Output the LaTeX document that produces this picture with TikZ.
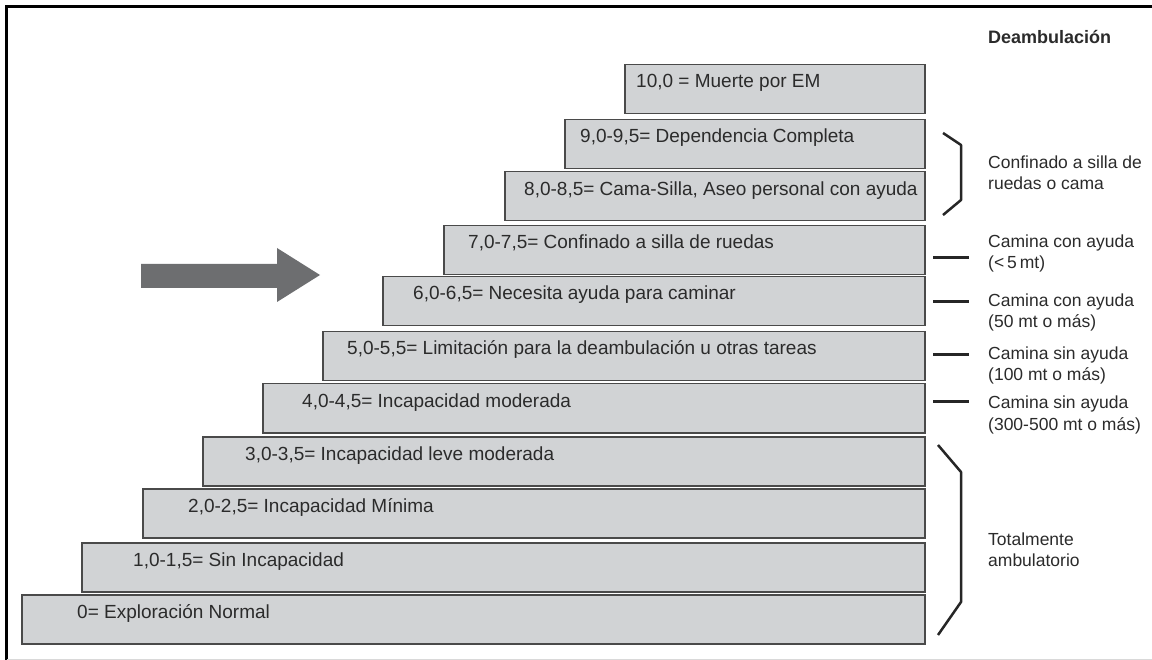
\documentclass[tikz,border=0pt]{standalone}
\usepackage{fontspec}
\setmainfont{Liberation Sans}
\definecolor{barfill}{HTML}{D1D3D5}
\definecolor{barline}{HTML}{4A4A4A}
\definecolor{txt}{HTML}{2B2B2B}
\definecolor{arrowgray}{HTML}{6D6E70}
\tikzset{
  bar/.style={draw=barline, fill=barfill, line width=1.5pt, anchor=north west, inner sep=0pt, minimum height=49pt},
  barlabel/.style={anchor=base west, inner sep=0pt, text=txt, font=\fontsize{19}{22}\selectfont},
  sidelabel/.style={anchor=base west, inner sep=0pt, text=txt, font=\fontsize{17.5}{21}\selectfont},
  headlabel/.style={anchor=base west, inner sep=0pt, text=txt, font=\fontsize{18}{21}\selectfont\bfseries},
  tick/.style={line width=3pt, draw=black!85},
  brace/.style={line width=2.5pt, draw=black!85, line join=round},
}
\begin{document}
\begin{tikzpicture}[x=1pt,y=-1pt]
\useasboundingbox (0,0) rectangle (1152,660);
\fill[white] (0,0) rectangle (1152,660);
% frame
\draw[line width=3pt] (6.5,660) -- (6.5,6.5) -- (1152,6.5);
\draw[line width=1pt, black!15] (6.5,659) -- (1152,659);
% bars
\node[bar, minimum width=300pt] (b10) at (624,64) {};
\node[bar, minimum width=360pt] (b9) at (564,119) {};
\node[bar, minimum width=420pt] (b8) at (504,171) {};
\node[bar, minimum width=481pt] (b7) at (443,225) {};
\node[bar, minimum width=542pt] (b6) at (382,276) {};
\node[bar, minimum width=602pt] (b5) at (322,331) {};
\node[bar, minimum width=662pt] (b4) at (262,383) {};
\node[bar, minimum width=722pt] (b3) at (202,436) {};
\node[bar, minimum width=782pt] (b2) at (142,488) {};
\node[bar, minimum width=843pt] (b1) at (81,542) {};
\node[bar, minimum width=903pt] (b0) at (21,594) {};
% bar labels
\node[barlabel] (t10) at (636,88) {10,0 = Muerte por EM};
\node[barlabel] (t9) at (580,143) {9,0-9,5= Dependencia Completa};
\node[barlabel] (t8) at (524,196) {8,0-8,5= Cama-Silla, Aseo personal con ayuda};
\node[barlabel] (t7) at (468,249) {7,0-7,5= Confinado a silla de ruedas};
\node[barlabel] (t6) at (413,300) {6,0-6,5= Necesita ayuda para caminar};
\node[barlabel] (t5) at (347,355) {5,0-5,5= Limitación para la deambulación u otras tareas};
\node[barlabel] (t4) at (302,407) {4,0-4,5= Incapacidad moderada};
\node[barlabel] (t3) at (245,460) {3,0-3,5= Incapacidad leve moderada};
\node[barlabel] (t2) at (188,512) {2,0-2,5= Incapacidad Mínima};
\node[barlabel] (t1) at (133,566) {1,0-1,5= Sin Incapacidad};
\node[barlabel] (t0) at (77,618) {0= Exploración Normal};
% arrow
\fill[arrowgray] (141,264) -- (277,264) -- (277,248) -- (320,275) -- (277,302) -- (277,288) -- (141,288) -- cycle;
% right column
\node[headlabel] (head) at (988,44) {Deambulación};
\draw[brace] (943,133) -- (961,145) -- (961,200) -- (943,215);
\node[sidelabel] (c1a) at (988,169) {Confinado a silla de};
\node[sidelabel] (c1b) at (988,190) {ruedas o cama};
\draw[tick] (933,258) -- (969,258);
\node[sidelabel] (c2a) at (988,248) {Camina con ayuda};
\node[sidelabel] (c2b) at (988,269) {(<\,5\,mt)};
\draw[tick] (933,302) -- (969,302);
\node[sidelabel] (c3a) at (988,307) {Camina con ayuda};
\node[sidelabel] (c3b) at (988,328) {(50 mt o más)};
\draw[tick] (933,355) -- (969,355);
\node[sidelabel] (c4a) at (988,360) {Camina sin ayuda};
\node[sidelabel] (c4b) at (988,381) {(100 mt o más)};
\draw[tick] (933,402) -- (969,402);
\node[sidelabel] (c5a) at (988,409) {Camina sin ayuda};
\node[sidelabel] (c5b) at (988,430) {(300-500 mt o más)};
\draw[brace] (938,445) -- (961,472) -- (961,602) -- (938,635);
\node[sidelabel] (c6a) at (988,545) {Totalmente};
\node[sidelabel] (c6b) at (988,566) {ambulatorio};
\end{tikzpicture}
\end{document}
